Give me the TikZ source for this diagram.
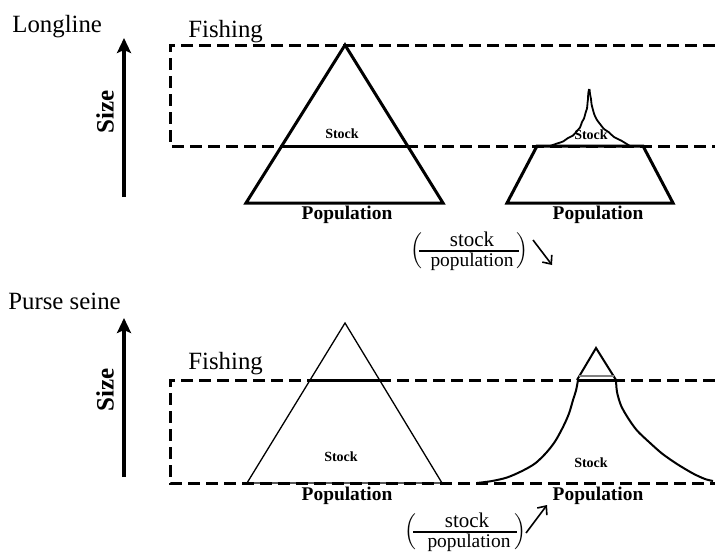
\documentclass[tikz,border=0pt]{standalone}
\usepackage{fontspec}
\setmainfont{Liberation Serif}
\usetikzlibrary{arrows.meta}
\begin{document}
\begin{tikzpicture}[x=0.5pt,y=-0.5pt,
  fishline/.style={line width=1.5pt,dash pattern=on 6pt off 3pt},
  cutline/.style={line width=1.5pt},
  bigshape/.style={line width=1.5pt,line join=miter},
  thinshape/.style={line width=0.65pt},
  wiggly/.style={line width=0.9pt,line join=round},
  title/.style={font=\fontsize{12.4}{14}\selectfont,anchor=base west,inner sep=0pt},
  sizelabel/.style={font=\bfseries\fontsize{12.5}{14}\selectfont,rotate=90,inner sep=0pt},
  sizearrow/.style={line width=2.1pt,-{Stealth[length=7.5pt,width=7pt,inset=1.5pt]}},
  poplabel/.style={font=\bfseries\fontsize{9.7}{11}\selectfont,anchor=base,inner sep=0pt},
  stocklabel/.style={font=\bfseries\fontsize{7}{8}\selectfont,inner sep=0pt},
  numer/.style={font=\fontsize{10.5}{12}\selectfont,anchor=base,inner sep=0pt},
  denom/.style={font=\fontsize{9.7}{11}\selectfont,anchor=base,inner sep=0pt},
  fracbar/.style={line width=0.9pt},
  paren/.style={inner sep=0pt},
  ratioarrow/.style={line width=0.8pt,-{Straight Barb[length=3.5pt,width=6pt]}}
]
\useasboundingbox (0,0) rectangle (715,552);

% ---------------- Longline panel ----------------
\node[title] (longline) at (12,32) {Longline};
\node[title] (fish1) at (188,37) {Fishing};
\coordinate (a1s) at (124,197);
\coordinate (a1e) at (124,38);
\draw[sizearrow] (a1s) -- (a1e);
\node[sizelabel] (size1) at (105,112) {Size};

% big triangle
\coordinate (t1l) at (246,203);
\coordinate (t1a) at (345,45);
\coordinate (t1r) at (443,203);
\draw[bigshape] (t1l) -- (t1a) -- (t1r) -- cycle;
\coordinate (c1l) at (281.7,146);
\coordinate (c1r) at (407.6,146);
\draw[cutline] (c1l) -- (c1r);

% trapezoid
\coordinate (z1) at (507,203);
\coordinate (z2) at (537,146);
\coordinate (z3) at (643,146);
\coordinate (z4) at (673,203);
\draw[bigshape] (z1) -- (z2) -- (z3) -- (z4) -- cycle;

% spiky stock
\draw[wiggly] plot[smooth,tension=0.5] coordinates {(550,146) (557,143.5) (563,141.5) (568,138) (573,135.5) (577,131) (580,127.5) (582,122) (584,118.5) (585.5,113) (587,108.5) (587.5,103) (588,99) (588.2,94) (589,89)};
\draw[wiggly] plot[smooth,tension=0.5] coordinates {(589.5,89) (590,94) (591,99) (591.5,104) (593,110) (594.5,115) (597,120) (600,124) (604,129) (608.5,132) (614,137) (621,140.5) (630,146)};

% fishing zone
\coordinate (f1a) at (715,45);
\coordinate (f1b) at (170,45);
\coordinate (f1c) at (170,146);
\coordinate (f1d) at (715,146);
\draw[fishline] (f1a) -- (f1b) -- (f1c) -- (f1d);

\node[stocklabel] (stk1) at (342,134) {Stock};
\node[stocklabel] (stk2) at (591,135) {Stock};
\node[poplabel] (pop1) at (347,219) {Population};
\node[poplabel] (pop2) at (598,219) {Population};

% ratio (decreasing)
\node[numer] (st1) at (472,246) {stock};
\node[denom] (po1) at (472,266) {population};
\coordinate (b1l) at (419,251);
\coordinate (b1r) at (519,251);
\draw[fracbar] (b1l) -- (b1r);
\node[paren] (lp1) at (416,251) {$\Big($};
\node[paren] (rp1) at (522,251) {$\Big)$};
\coordinate (d1s) at (533,240);
\coordinate (d1e) at (552,265);
\draw[ratioarrow] (d1s) -- (d1e);

% ---------------- Purse seine panel ----------------
\node[title] (purse) at (8,309) {Purse seine};
\node[title] (fish2) at (188,369) {Fishing};
\coordinate (a2s) at (124,477);
\coordinate (a2e) at (124,318);
\draw[sizearrow] (a2s) -- (a2e);
\node[sizelabel] (size2) at (105,390) {Size};

% thin triangle
\coordinate (t2l) at (247,483);
\coordinate (t2a) at (345,323);
\coordinate (t2r) at (442,483);
\draw[thinshape] (t2l) -- (t2a) -- (t2r) -- cycle;
\coordinate (c2l) at (310,380);
\coordinate (c2r) at (379.6,380);
\draw[cutline] (c2l) -- (c2r);

% bell-shaped population
\draw[wiggly,line width=1pt] plot[smooth,tension=0.5] coordinates {(477,483) (492,481) (507,477.5) (522,471) (535,463.5) (546,453) (555,441.5) (563,427) (569,413.5) (573,400) (576,390.5) (578,380)};
\draw[wiggly,line width=1pt] plot[smooth,tension=0.5] coordinates {(616,380) (617,392) (621,405.5) (628,418) (637,430.5) (649,442) (662,453.5) (677,464) (693,473.5) (705,479) (713,481)};
\coordinate (s1) at (577,380);
\coordinate (s2) at (596,348);
\coordinate (s3) at (616,380);
\draw[line width=1pt,line join=miter] (s1) -- (s2) -- (s3);
\draw[line width=0.6pt,gray] (579,376) -- (614,376);
\draw[cutline] (s1) -- (s3);

% fishing zone
\coordinate (f2a) at (715,380);
\coordinate (f2b) at (170,380);
\coordinate (f2c) at (170,483);
\coordinate (f2d) at (715,483);
\draw[fishline] (f2a) -- (f2b) -- (f2c) -- (f2d);

\node[stocklabel] (stk3) at (341,457) {Stock};
\node[stocklabel] (stk4) at (591,463) {Stock};
\node[poplabel] (pop3) at (347,500) {Population};
\node[poplabel] (pop4) at (598,500) {Population};

% ratio (increasing)
\node[numer] (st2) at (467,527) {stock};
\node[denom] (po2) at (469,547) {population};
\coordinate (b2l) at (413,532);
\coordinate (b2r) at (517,532);
\draw[fracbar] (b2l) -- (b2r);
\node[paren] (lp2) at (410,532) {$\Big($};
\node[paren] (rp2) at (520,532) {$\Big)$};
\coordinate (d2s) at (526,533);
\coordinate (d2e) at (547,505);
\draw[ratioarrow] (d2s) -- (d2e);
\end{tikzpicture}
\end{document}
